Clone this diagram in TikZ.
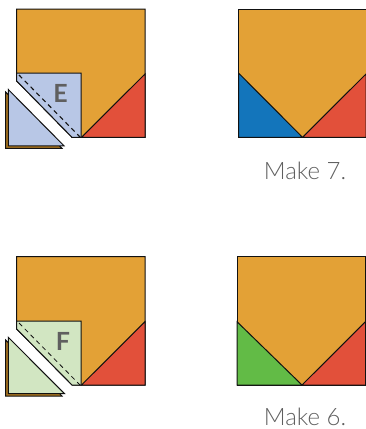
\documentclass[tikz,border=0pt]{standalone}
\usepackage{fontspec}
\setmainfont{Lato}[UprightFont=* Light,BoldFont=* Bold]
\definecolor{ink}{HTML}{111111}
\definecolor{muted}{HTML}{5F5F5F}
\definecolor{gold}{HTML}{E3A136}
\definecolor{brown}{HTML}{A8741F}
\definecolor{coral}{HTML}{E2503A}
\definecolor{navy}{HTML}{1375BB}
\definecolor{grass}{HTML}{62BB46}
\definecolor{paleblue}{HTML}{B8C7E6}
\definecolor{palegreen}{HTML}{D2E6C2}
\begin{document}
\begin{tikzpicture}[x=1pt,y=-1pt,
  patch/.style={draw=ink,line width=1pt,line join=miter},
  seam/.style={draw=ink,line width=1.1pt,dash pattern=on 4.5pt off 3.8pt},
  letter/.style={text=muted,font=\fontsize{25}{25}\selectfont\bfseries},
  caption/.style={text=muted,font=\fontsize{24}{24}\selectfont}
]
\useasboundingbox (0,0) rectangle (366,429);
% top row, piece E
\draw[patch,fill=gold] (16.7,9) -- (145,9) -- (145,137.3) -- (72,137.3) -- (16.7,81) -- cycle;
\draw[patch,fill=coral] (145,74) -- (145,137.3) -- (81.5,137.3) -- cycle;
\draw[patch,fill=paleblue] (16.7,73) -- (81,73) -- (81,137.3) -- (72,137.3) -- (16.7,81) -- cycle;
\draw[seam] (19,75) -- (80,137);
\draw[patch,fill=brown] (5.7,92) -- (5.7,148.3) -- (62,148.3) -- cycle;
\draw[patch,fill=paleblue] (8.3,89.5) -- (8.3,145.8) -- (64,145.8) -- cycle;
\node[letter] (letterE) at (60.5,93.5) {E};
% top row, finished
\draw[patch,fill=gold] (238.5,9) rectangle (366,137.3);
\draw[patch,fill=navy] (238.5,73) -- (238.5,137.3) -- (302.5,137.3) -- cycle;
\draw[patch,fill=coral] (366,74) -- (366,137.3) -- (302.5,137.3) -- cycle;
\node[caption] (make7) at (305,170.5) {Make 7.};
% bottom row, piece F
\draw[patch,fill=gold] (16.7,256.7) -- (145,256.7) -- (145,385) -- (72,385) -- (16.7,329) -- cycle;
\draw[patch,fill=coral] (145,321.7) -- (145,385) -- (81.5,385) -- cycle;
\draw[patch,fill=palegreen] (16.7,321) -- (81,321) -- (81,385) -- (72,385) -- (16.7,329) -- cycle;
\draw[seam,line width=.8pt] (19,323) -- (80,385);
\draw[patch,fill=brown] (5.7,340) -- (5.7,396) -- (62,396) -- cycle;
\draw[patch,fill=palegreen] (8.3,337.3) -- (8.3,393.6) -- (64.5,393.6) -- cycle;
\node[letter] (letterF) at (63,341.5) {F};
% bottom row, finished
\draw[patch,fill=gold] (237,256.7) rectangle (365.5,385);
\draw[patch,fill=grass] (237,321.7) -- (237,385) -- (302,385) -- cycle;
\draw[patch,fill=coral] (365.5,321.7) -- (365.5,385) -- (302,385) -- cycle;
\node[caption] (make6) at (305,417) {Make 6.};
\end{tikzpicture}
\end{document}
